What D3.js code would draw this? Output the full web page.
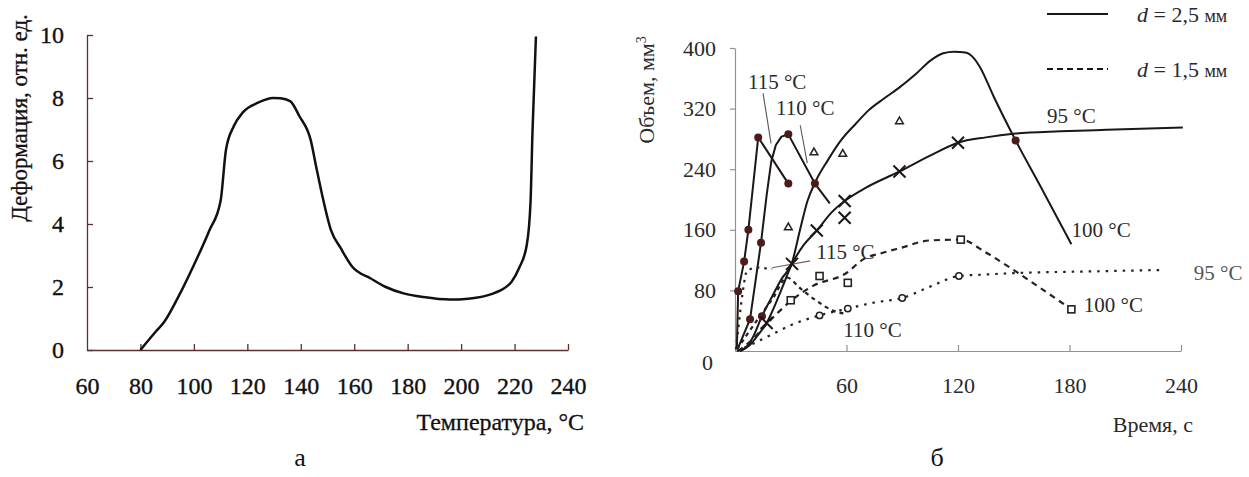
<!DOCTYPE html>
<html>
<head>
<meta charset="utf-8">
<script src="https://cdn.jsdelivr.net/npm/d3@7"></script>
<style>
  html, body { margin: 0; padding: 0; background: #fff; }
  svg { display: block; }
  text { font-family: "Liberation Serif", "Times New Roman", serif; }
</style>
</head>
<body>
<svg id="chart" width="1249" height="477"></svg>
<script>
// ---- Panel a: deformation vs temperature ----
const tempC   = [80, 86, 88.8, 94.5, 100, 105.7, 110, 112, 114.9, 118.4, 124, 129.6, 132.4, 136, 139.5, 143.7, 145.8, 147.9, 151.4, 154.9, 159.2, 166.2, 171.8, 178.8, 185.9, 195.7, 202.7, 211.9, 218.9, 221.7, 224.6, 226, 226.7, 228];
const deform  = [0, 0.61, 0.88, 1.74, 2.7, 3.78, 4.74, 6.35, 7.1, 7.55, 7.85, 8.0, 7.99, 7.9, 7.42, 6.67, 5.8, 4.96, 3.78, 3.24, 2.65, 2.27, 2.0, 1.79, 1.68, 1.6, 1.63, 1.79, 2.17, 2.6, 3.35, 4.74, 6.9, 9.95];
const tempTicks = [60, 80, 100, 120, 140, 160, 180, 200, 220, 240];
const deformTicks = [0, 2, 4, 6, 8, 10];

// ---- Panel б: volume vs time ----
const timeTicks = [60, 120, 180, 240];
const volTicks = [0, 80, 160, 240, 320, 400];

// d = 2,5 mm (solid)
const solid115 = [[1, 3], [1.7, 79], [4.9, 118], [7.2, 160], [12.5, 282], [28.7, 221]];
const solid110 = [[1.5, 3], [8.1, 42], [14, 143], [17, 205], [19.5, 250], [22, 272], [25, 283], [28.7, 286], [43, 221], [51, 195]];
const solid100 = [[2.7, 0], [6, 5], [10, 20], [14.5, 46], [20, 72], [25, 95], [30.7, 117], [35, 160], [39, 198], [43, 222], [50, 252], [57, 278], [65, 300], [72, 318], [80, 333], [88, 347], [97, 365], [105, 383], [112, 393], [118, 395], [124, 394], [128, 388], [132, 374], [139, 337], [151, 278], [166, 210], [181, 141]];
const solid95  = [[2.7, 0], [8, 8], [12, 20], [17, 37], [24, 75], [30.7, 115], [37, 140], [44, 159], [52, 183], [59, 198], [70, 215], [88.5, 237], [105, 258], [120, 275], [135, 282], [151, 287], [175, 290], [200, 292], [241, 295]];

// d = 1,5 mm (dashed / dotted)
const dash115 = [[0.5, 2], [2, 35], [4, 75], [6.5, 106], [12, 110], [20, 108]];
const dash110 = [[1, 2], [6, 20], [11.7, 40], [20.5, 70], [28, 97], [35, 83], [44, 66], [53, 53], [60, 49]];
const dash100 = [[1.5, 0], [8, 12], [15, 30], [22, 48], [30, 66], [42, 86], [60, 103], [69, 121], [80, 130], [89, 136], [105, 146], [121.5, 147], [135, 130], [148, 110], [165, 82], [181, 55]];
const dash95  = [[1, 0], [10, 10], [20, 22], [30, 34], [45.5, 47], [60.7, 56], [75, 64], [90, 70], [105, 85], [120.5, 99], [135, 101], [152, 103], [190, 105], [231, 107]];

// measured points
const filledDots = [[1.7, 79], [4.9, 118], [7.2, 160], [12.5, 282], [28.7, 221], [8.1, 42], [14, 143], [28.7, 286], [43, 221], [14.5, 46], [151, 278]];
const crossPts   = [[17, 37], [30.7, 115], [44, 159], [59, 198], [59, 176], [88.5, 237], [120, 275]];
const trianglePts = [[28.7, 163], [42.5, 262], [58, 260], [88.5, 303]];
const squarePts  = [[30, 67], [45.5, 99], [60.7, 90], [121.5, 147], [181, 55]];
const circlePts  = [[45.5, 47], [60.7, 56], [90, 70], [120.5, 99]];

// curve annotations: [text, time, volume]
const curveLabels = [
  ["115 °C", 22.7, 356], ["110 °C", 37.8, 321], ["95 °C", 181, 311], ["100 °C", 197, 160],
  ["115 °C", 59.4, 131], ["110 °C", 74, 28], ["95 °C", 260, 104], ["100 °C", 203.6, 61]
];
const leaderLines = [
  [[15.1, 340], [19.4, 274]],
  [[35.1, 298], [38.9, 248]],
  [[20, 110], [40.5, 119]]
];

const svg = d3.select("#chart");

// ================= panel a =================
const xa = d3.scaleLinear().domain([60, 240]).range([87, 568]);
const ya = d3.scaleLinear().domain([0, 10]).range([350, 35]);
const axisColA = "#5a2f2f";

const gxa = svg.append("g").attr("transform", `translate(0,${ya(0)})`)
  .call(d3.axisBottom(xa).tickValues(tempTicks).tickSizeInner(-6).tickSizeOuter(0).tickPadding(27).tickFormat(d3.format("d")));
const gya = svg.append("g").attr("transform", `translate(${xa(60)},0)`)
  .call(d3.axisLeft(ya).tickValues(deformTicks).tickSizeInner(-6).tickSizeOuter(0).tickPadding(23).tickFormat(d3.format("d")));
[gxa, gya].forEach(g => {
  g.selectAll("path,line").attr("stroke", axisColA).attr("stroke-width", 1.3);
  g.selectAll("text").attr("font-size", 24).attr("fill", "#111")
    .attr("stroke", "#111").attr("stroke-width", 0.35)
    .style("font-family", "'Liberation Serif', serif");
});
gxa.selectAll(".tick").filter(d => d === 60).select("line").remove();

svg.append("path")
  .datum(d3.zip(tempC, deform))
  .attr("fill", "none").attr("stroke", "#111").attr("stroke-width", 2.5)
  .attr("d", d3.line().x(d => xa(d[0])).y(d => ya(d[1])).curve(d3.curveMonotoneX));

svg.append("text").attr("transform", "translate(27,118) rotate(-90)")
  .attr("text-anchor", "middle").attr("font-size", 23).attr("fill", "#111")
  .attr("stroke", "#111").attr("stroke-width", 0.3)
  .text("Деформация, отн. ед.");
svg.append("text").attr("x", 584).attr("y", 430).attr("text-anchor", "end")
  .attr("font-size", 24).attr("fill", "#111").attr("stroke", "#111").attr("stroke-width", 0.3)
  .text("Температура,  °С");
svg.append("text").attr("x", 300).attr("y", 466).attr("text-anchor", "middle")
  .attr("font-size", 26).attr("fill", "#111").text("а");

// ================= panel б =================
const xb = d3.scaleLinear().domain([0, 240]).range([735, 1181]);
const yb = d3.scaleLinear().domain([0, 400]).range([351, 48]);
const axisColB = "#9a8f86";

const gxb = svg.append("g").attr("transform", `translate(0,${yb(0)})`)
  .call(d3.axisBottom(xb).tickValues(timeTicks).tickSizeInner(-6).tickSizeOuter(0).tickPadding(26).tickFormat(d3.format("d")));
const gyb = svg.append("g").attr("transform", `translate(${xb(0)},0)`)
  .call(d3.axisLeft(yb).tickValues(volTicks).tickSizeInner(5).tickSizeOuter(0).tickPadding(14).tickFormat(d3.format("d")));
[gxb, gyb].forEach(g => {
  g.selectAll("path,line").attr("stroke", axisColB).attr("stroke-width", 1.2);
  g.selectAll("text").attr("font-size", 22).attr("fill", "#2a2a2a")
    .style("font-family", "'Liberation Serif', serif");
});
gyb.selectAll(".tick").filter(d => d === 0).select("line").remove();
gyb.selectAll(".tick").filter(d => d === 0).select("text").attr("dy", "0.85em").attr("x", -22);

const lineB = d3.line().x(d => xb(d[0])).y(d => yb(d[1])).curve(d3.curveMonotoneX);
const lineBLin = d3.line().x(d => xb(d[0])).y(d => yb(d[1]));

const solidCol = "#1c1616";
[[solid115, lineBLin], [solid110, lineBLin], [solid100, lineB], [solid95, lineB]].forEach(([data, gen]) => {
  svg.append("path").datum(data).attr("fill", "none").attr("stroke", solidCol)
    .attr("stroke-width", 2).attr("stroke-linejoin", "round").attr("d", gen);
});

const dashCol = "#222";
[[dash115, "2.5,5"], [dash110, "4,4"], [dash100, "6,5"], [dash95, "2.5,6"]].forEach(([data, da]) => {
  svg.append("path").datum(data).attr("fill", "none").attr("stroke", dashCol)
    .attr("stroke-width", 2.2).attr("stroke-dasharray", da).attr("d", lineB);
});

// leader lines
leaderLines.forEach((seg, i) => {
  svg.append("path").datum(seg).attr("fill", "none")
    .attr("stroke", i === 2 ? "#7a5a55" : "#555").attr("stroke-width", 1.1).attr("d", lineBLin);
});

// markers
svg.selectAll(".dot").data(filledDots).join("circle").attr("class", "dot")
  .attr("cx", d => xb(d[0])).attr("cy", d => yb(d[1])).attr("r", 4).attr("fill", "#4a1d1a");
svg.selectAll(".cross").data(crossPts).join("path").attr("class", "cross")
  .attr("transform", d => `translate(${xb(d[0])},${yb(d[1])})`)
  .attr("d", "M-6,-6L6,6M-6,6L6,-6").attr("stroke", "#1c1616").attr("stroke-width", 2).attr("fill", "none");
svg.selectAll(".tri").data(trianglePts).join("path").attr("class", "tri")
  .attr("transform", d => `translate(${xb(d[0])},${yb(d[1])})`)
  .attr("d", d3.symbol(d3.symbolTriangle, 26)).attr("fill", "none").attr("stroke", "#222").attr("stroke-width", 1.5);
svg.selectAll(".sq").data(squarePts).join("rect").attr("class", "sq")
  .attr("x", d => xb(d[0]) - 3.5).attr("y", d => yb(d[1]) - 3.5).attr("width", 7).attr("height", 7)
  .attr("fill", "#fff").attr("stroke", "#222").attr("stroke-width", 1.6);
svg.selectAll(".ci").data(circlePts).join("circle").attr("class", "ci")
  .attr("cx", d => xb(d[0])).attr("cy", d => yb(d[1])).attr("r", 3.2)
  .attr("fill", "#fff").attr("stroke", "#222").attr("stroke-width", 1.5);

// curve labels
svg.selectAll(".clab").data(curveLabels).join("text").attr("class", "clab")
  .attr("x", d => xb(d[1])).attr("y", d => yb(d[2])).attr("dy", "0.35em")
  .attr("text-anchor", "middle").attr("font-size", 21)
  .attr("fill", (d, i) => i === 6 ? "#555" : "#2a2a2a").text(d => d[0]);

// axis titles
svg.append("text").attr("transform", "translate(654,90) rotate(-90)")
  .attr("text-anchor", "middle").attr("font-size", 22).attr("fill", "#2a2a2a")
  .html("Объем, мм<tspan dy='-8' font-size='14'>3</tspan>");
svg.append("text").attr("x", 1193).attr("y", 432).attr("text-anchor", "end")
  .attr("font-size", 22).attr("fill", "#2a2a2a").text("Время, с");
svg.append("text").attr("x", 937).attr("y", 466).attr("text-anchor", "middle")
  .attr("font-size", 26).attr("fill", "#111").text("б");

// legend
const legend = [["2,5 мм", null, 14], ["1,5 мм", "6,4", 69]];
legend.forEach(([val, da, y]) => {
  svg.append("line").attr("x1", 1047).attr("x2", 1108).attr("y1", y).attr("y2", y)
    .attr("stroke", "#1c1616").attr("stroke-width", 2).attr("stroke-dasharray", da);
  const t = svg.append("text").attr("x", 1137).attr("y", y + 8).attr("font-size", 22).attr("fill", "#2a2a2a");
  t.append("tspan").attr("font-style", "italic").text("d");
  t.append("tspan").text(" = " + val.split(" ")[0] + " ");
  t.append("tspan").attr("font-size", 18).text(val.split(" ")[1]);
});
</script>
</body>
</html>
